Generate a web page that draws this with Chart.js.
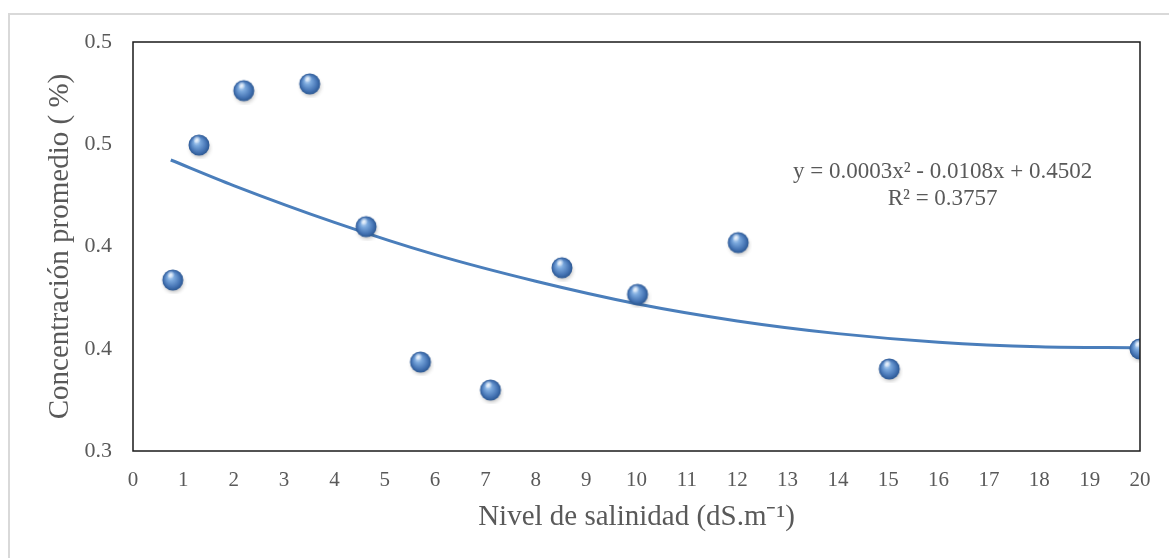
<!DOCTYPE html>
<html>
<head>
<meta charset="utf-8">
<script src="https://cdn.jsdelivr.net/npm/chart.js@4"></script>
<style>
  html, body { margin: 0; padding: 0; background: #fff; overflow: hidden; }
  #wrap { position: relative; width: 1169px; height: 558px; }
  #frame { position: absolute; left: 8px; top: 13px; width: 1200px; height: 600px;
           border-left: 2px solid #d9d9d9; border-top: 2px solid #d9d9d9; }
  canvas { position: absolute; left: 0; top: 0; }
</style>
</head>
<body>
<div id="wrap">
  <div id="frame"></div>
  <canvas id="myChart" width="1169" height="558"></canvas>
</div>
<script>
// measured points
var salinity = [0.79, 1.31, 2.2, 3.51, 4.63, 5.71, 7.1, 8.52, 10.02, 12.02, 15.02, 20];
var concentration = [0.3836, 0.4496, 0.4762, 0.4795, 0.4097, 0.3435, 0.3298, 0.3896, 0.3766, 0.4019, 0.3401, 0.3499];

// trend line
var trendX = [0.75, 2, 4, 6, 8, 10, 12, 14, 16, 18, 20];
var trendY = [0.4423, 0.4298, 0.4118, 0.3960, 0.3830, 0.3720, 0.3636, 0.3574, 0.3532, 0.3510, 0.3505];

var yTickLabels = ["0.3", "0.4", "0.4", "0.5", "0.5"];
var equationLines = ["y = 0.0003x\u00B2 - 0.0108x + 0.4502", "R\u00B2 = 0.3757"];

var textColor = "#595959";
var serif = "'Liberation Serif', 'Times New Roman', serif";

function makeSphere(){
    let c = document.createElement("canvas");
    c.width = 28; c.height = 28;
    let g = c.getContext("2d");
    // soft shadow
    g.save();
    g.filter = "blur(2px)";
    g.fillStyle = "rgba(0,0,0,0.28)";
    g.beginPath();
    g.ellipse(15, 17, 9.5, 9, 0, 0, Math.PI * 2);
    g.fill();
    g.restore();
    // ball
    let grad = g.createRadialGradient(11, 10, 0.5, 14, 14, 10.5);
    grad.addColorStop(0, "#c4dbf5");
    grad.addColorStop(0.3, "#7aa8dd");
    grad.addColorStop(0.75, "#4574b4");
    grad.addColorStop(1, "#2b5792");
    g.fillStyle = grad;
    g.beginPath();
    g.arc(14, 14, 10.5, 0, Math.PI * 2);
    g.fill();
    // highlight
    let hl = g.createRadialGradient(12, 8.5, 0, 12, 8.5, 4);
    hl.addColorStop(0, "rgba(255,255,255,0.85)");
    hl.addColorStop(1, "rgba(255,255,255,0)");
    g.fillStyle = hl;
    g.beginPath();
    g.arc(12, 8.5, 4, 0, Math.PI * 2);
    g.fill();
    return c;
}

var framePlugin = {
    id: "frame",
    afterDatasetsDraw(chart){
        let a = chart.chartArea, ctx = chart.ctx;
        ctx.save();
        ctx.strokeStyle = "#1a1a1a";
        ctx.lineWidth = 1.5;
        ctx.strokeRect(a.left, a.top, a.right - a.left, a.bottom - a.top);
        ctx.restore();
    }
};

var equationPlugin = {
    id: "equation",
    afterDraw(chart){
        let ctx = chart.ctx, x = chart.scales.x, y = chart.scales.y;
        let cx = x.getPixelForValue(16.08);
        let base = y.getPixelForValue(0.4335);
        ctx.save();
        ctx.fillStyle = textColor;
        ctx.font = "23px " + serif;
        ctx.textAlign = "center";
        ctx.textBaseline = "alphabetic";
        for (let i = 0; i < equationLines.length; i++){
            ctx.fillText(equationLines[i], cx, base + i * 27);
        }
        ctx.restore();
    }
};

document.addEventListener("DOMContentLoaded", function(){
    initChart();
});

function initChart(){
    let sphere = makeSphere();
    let points = salinity.map((s, i) => ({x: s, y: concentration[i]}));
    let trend = trendX.map((s, i) => ({x: s, y: trendY[i]}));

    const ctx = document.getElementById("myChart").getContext("2d");
    new Chart(ctx, {
        type: "scatter",
        data: {
            datasets: [{
                label: "Concentración",
                data: points,
                pointStyle: sphere,
                order: 0
            }, {
                type: "line",
                label: "Tendencia",
                data: trend,
                borderColor: "#4a7ebb",
                borderWidth: 3,
                pointRadius: 0,
                cubicInterpolationMode: "monotone",
                fill: false,
                order: 1
            }]
        },
        options: {
            responsive: false,
            animation: false,
            events: [],
            layout: { padding: { left: 8, top: 42, right: 29, bottom: 0 } },
            plugins: {
                legend: { display: false },
                tooltip: { enabled: false }
            },
            scales: {
                x: {
                    type: "linear",
                    min: 0,
                    max: 20,
                    grid: { display: false, drawTicks: false },
                    border: { display: false },
                    ticks: {
                        stepSize: 1,
                        padding: 17,
                        color: textColor,
                        font: { family: serif, size: 21 },
                        maxRotation: 0
                    },
                    title: {
                        display: true,
                        text: "Nivel de salinidad (dS.m\u207B\u00B9)",
                        color: textColor,
                        font: { family: serif, size: 29 },
                        padding: { top: 0, bottom: 23 }
                    },
                    afterFit(scale){ scale.height = 107; }
                },
                y: {
                    type: "linear",
                    min: 0.3,
                    max: 0.5,
                    grid: { display: false, drawTicks: false },
                    border: { display: false },
                    ticks: {
                        stepSize: 0.05,
                        padding: 21,
                        color: textColor,
                        font: { family: serif, size: 22 },
                        callback: function(v, i){ return yTickLabels[i]; }
                    },
                    title: {
                        display: true,
                        text: "Concentración promedio ( %)",
                        color: textColor,
                        font: { family: serif, size: 29 },
                        padding: { top: 35, bottom: 0 }
                    },
                    afterFit(scale){ scale.width = 125; }
                }
            }
        },
        plugins: [framePlugin, equationPlugin]
    });
}
</script>
</body>
</html>
